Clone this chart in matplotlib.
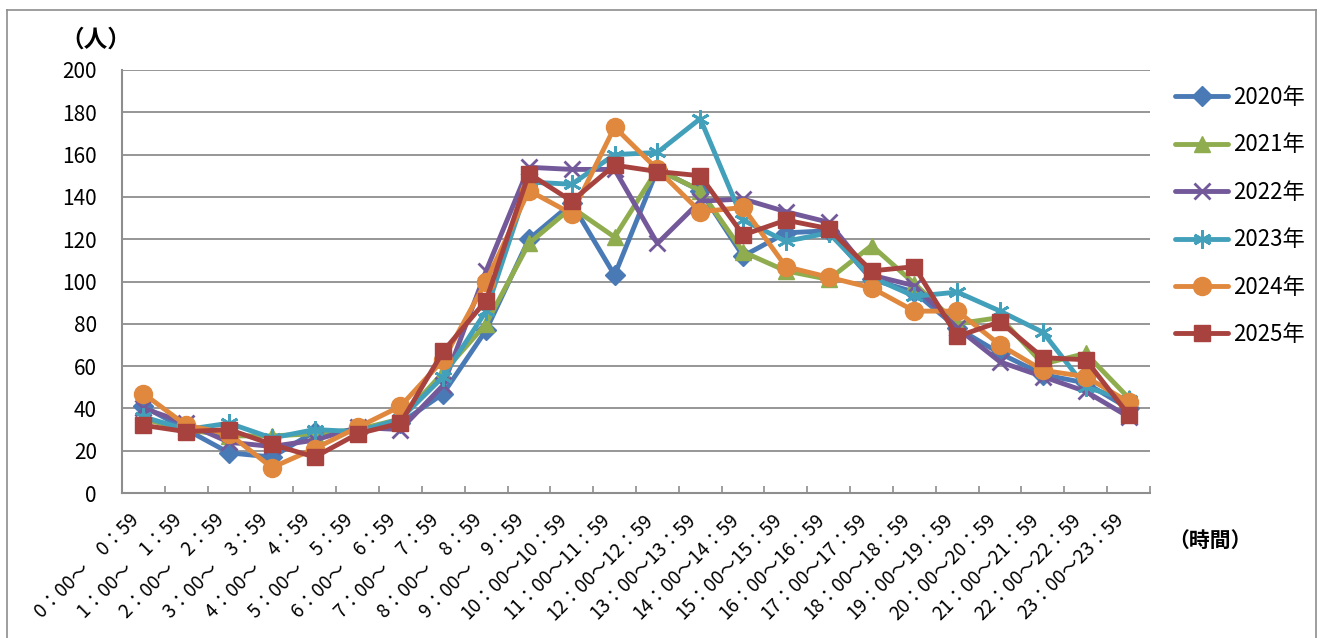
import matplotlib.pyplot as plt
from matplotlib.lines import Line2D

plt.rcParams['font.family'] = ['Noto Sans CJK JP', 'DejaVu Sans']

hours = list(range(24))
time_labels = [f"{h}：00～　{h}：59" if h < 10 else f"{h}：00～{h}：59" for h in hours]

y2020 = [41, 30, 19, 17, 29, 29, 33, 47, 77, 120, 137, 103, 153, 143, 112, 123, 124, 101, 95, 78, 66, 56, 52, 40]
y2021 = [35, 30, 27, 27, 28, 30, 35, 57, 80, 118, 135, 121, 153, 143, 114, 105, 101, 117, 99, 80, 83, 61, 66, 45]
y2022 = [40, 33, 24, 22, 25, 31, 30, 51, 105, 154, 153, 153, 118, 138, 139, 133, 128, 103, 98, 78, 62, 55, 48, 36]
y2023 = [36, 30, 33, 26, 30, 29, 35, 55, 86, 147, 146, 160, 161, 177, 129, 119, 123, 102, 93, 95, 86, 76, 50, 44]
y2024 = [47, 32, 28, 12, 21, 31, 41, 63, 100, 143, 132, 173, 153, 133, 135, 107, 102, 97, 86, 86, 70, 58, 55, 43]
y2025 = [32, 29, 30, 23, 17, 28, 33, 67, 91, 151, 138, 155, 152, 150, 122, 129, 125, 105, 107, 74, 81, 64, 63, 37]

series = [
    ("2020年", y2020, "#4a7ab5", "D", 10.5),
    ("2021年", y2021, "#8fad4f", "^", 12),
    ("2022年", y2022, "#73599a", "x", 11),
    ("2023年", y2023, "#43a0ba", (6, 2, 0), 13),
    ("2024年", y2024, "#e0883d", "o", 13),
    ("2025年", y2025, "#a8423f", "s", 12),
]

W, H = 1322, 638
fig = plt.figure(figsize=(W / 100, H / 100), dpi=100)
ax = fig.add_axes([122 / W, 1 - 493 / H, 1028 / W, 423 / H])

for name, vals, col, mk, ms in series:
    ax.plot(hours, vals, color=col, marker=mk, markersize=ms, linewidth=3.5,
            markeredgewidth=2 if mk in ("x", (6, 2, 0)) else 1, markeredgecolor=col,
            label=name, solid_joinstyle="round", solid_capstyle="round", clip_on=False)

ax.set_xlim(-0.5, 23.5)
ax.set_ylim(0, 200)
ax.set_yticks(range(0, 201, 20))
ax.yaxis.grid(True, color="#8e8e8e", linewidth=1.3)
ax.set_axisbelow(True)
for s in ("top", "right"):
    ax.spines[s].set_visible(False)
for s in ("left", "bottom"):
    ax.spines[s].set_color("#8e8e8e")
    ax.spines[s].set_linewidth(1.5)

ax.set_xticks(hours)
ax.set_xticklabels(time_labels, rotation=45, ha="right", va="top", fontsize=13.6)
ax.set_xticks([h + 0.5 for h in range(-1, 24)], minor=True)
ax.tick_params(axis="x", which="major", length=0, pad=12)
ax.tick_params(axis="x", which="minor", length=5, direction="in", color="#8e8e8e", width=1.2)
ax.tick_params(axis="y", length=0, pad=18, labelsize=15)

fig.text(60 / W, 1 - 40 / H, "（人）", fontsize=17, fontweight="bold", va="center", ha="left")
fig.text(1168 / W, 1 - 540 / H, "（時間）", fontsize=15, fontweight="bold", va="center", ha="left")

fig.legend(loc="upper left", bbox_to_anchor=(1175 / W, 1 - 86 / H), frameon=False,
           fontsize=16, handlelength=2.4, handletextpad=0.2, labelspacing=1.1,
           borderpad=0, borderaxespad=0)

# frame around the whole chart
for xs, ys in [((7, 7), (0, 628)), ((7, 1316), (628, 628)), ((1316, 1316), (628, 0))]:
    fig.add_artist(Line2D([x / W for x in xs], [y / H for y in ys], color="#8e8e8e", linewidth=1.2))

plt.savefig("out.png", dpi=100)
